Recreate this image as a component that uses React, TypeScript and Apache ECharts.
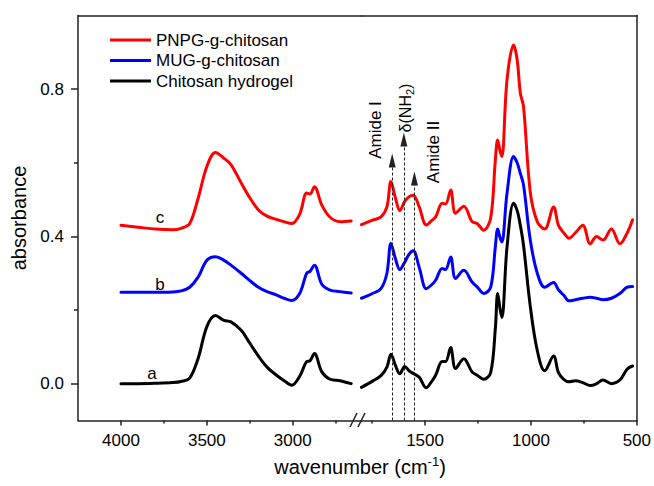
import React, { useEffect, useRef } from "react";
import * as echarts from "echarts";

const FONT = "'Liberation Sans', Arial, sans-serif";

// wavenumber grids (cm-1)
const WN_LEFT = [4000, 3900, 3800, 3700, 3650, 3600, 3550, 3500, 3450, 3400, 3360, 3300, 3250, 3200, 3150, 3100, 3050, 3006, 2960, 2919, 2900, 2874, 2831, 2783, 2725, 2660];
const WN_RIGHT = [1800, 1748, 1708, 1680, 1661, 1640, 1619, 1596, 1575, 1556, 1528, 1494, 1470, 1450, 1419, 1403, 1379, 1356, 1317, 1278, 1254, 1223, 1190, 1168, 1157, 1145, 1137, 1113, 1082, 1065, 1050, 1035, 1003, 970, 935, 893, 870, 845, 820, 790, 755, 720, 690, 660, 620, 580, 545, 520];

// a: Chitosan hydrogel
const A_LEFT = [0.0, 0.0, 0.001, 0.003, 0.006, 0.015, 0.07, 0.155, 0.185, 0.172, 0.168, 0.145, 0.11, 0.075, 0.045, 0.025, 0.008, -0.004, 0.02, 0.06, 0.062, 0.082, 0.032, 0.012, 0.008, 0.0];
const A_RIGHT = [-0.01, 0.007, 0.022, 0.045, 0.08, 0.05, 0.027, 0.047, 0.035, 0.028, 0.018, -0.011, 0.005, 0.023, 0.06, 0.06, 0.098, 0.041, 0.068, 0.032, 0.023, 0.012, 0.03, 0.15, 0.245, 0.2, 0.18, 0.37, 0.49, 0.47, 0.43, 0.376, 0.21, 0.09, 0.035, 0.075, 0.03, 0.012, 0.005, 0.008, 0.003, -0.005, 0.0, 0.01, 0.0, 0.01, 0.04, 0.048];

// b: MUG-g-chitosan
const B_LEFT = [0.248, 0.248, 0.248, 0.249, 0.252, 0.262, 0.29, 0.335, 0.345, 0.335, 0.322, 0.3, 0.28, 0.262, 0.25, 0.242, 0.232, 0.226, 0.245, 0.3, 0.305, 0.322, 0.27, 0.254, 0.25, 0.246];
const B_RIGHT = [0.232, 0.245, 0.258, 0.3, 0.381, 0.34, 0.31, 0.33, 0.352, 0.361, 0.317, 0.258, 0.268, 0.281, 0.313, 0.31, 0.344, 0.286, 0.308, 0.276, 0.263, 0.245, 0.262, 0.372, 0.42, 0.395, 0.385, 0.517, 0.617, 0.6, 0.571, 0.54, 0.39, 0.3, 0.262, 0.275, 0.255, 0.24, 0.225, 0.228, 0.232, 0.235, 0.232, 0.228, 0.232, 0.245, 0.262, 0.264];

// c: PNPG-g-chitosan
const C_LEFT = [0.43, 0.425, 0.42, 0.418, 0.422, 0.435, 0.505, 0.59, 0.628, 0.612, 0.595, 0.545, 0.505, 0.472, 0.455, 0.447, 0.44, 0.435, 0.46, 0.518, 0.515, 0.535, 0.485, 0.452, 0.44, 0.442];
const C_RIGHT = [0.432, 0.444, 0.453, 0.48, 0.549, 0.505, 0.47, 0.495, 0.508, 0.512, 0.481, 0.431, 0.442, 0.453, 0.49, 0.488, 0.526, 0.463, 0.482, 0.44, 0.435, 0.417, 0.45, 0.608, 0.662, 0.63, 0.617, 0.825, 0.92, 0.88, 0.789, 0.753, 0.52, 0.44, 0.42, 0.48, 0.43, 0.41, 0.395, 0.41, 0.43, 0.38, 0.4, 0.39, 0.42, 0.38, 0.41, 0.445];

const NAMES = ["PNPG-g-chitosan", "MUG-g-chitosan", "Chitosan hydrogel"];
const COLORS = ["#ff0000", "#0000ff", "#000000"];

// annotation arrows (wavenumber, arrow end absorbance)
const ANNOT_WN = [1655, 1600, 1550];
const ANNOT_END = [0.606, 0.663, 0.557];

const X_LEFT_LABELS = [3000, 3500, 4000];
const X_LEFT_MINOR = [2750, 3250, 3750];
const X_RIGHT_LABELS = [500, 1000, 1500];
const X_RIGHT_MINOR = [750, 1250, 1750];
const Y_LABELS = [0, 0.4, 0.8];
const Y_MINOR = [0.2, 0.6];

const zip = (xs: number[], ys: number[]) => xs.map((x, i) => [x, ys[i]]);

const AXIS_COLOR = "#222";

export default function App() {
  const ref = useRef<HTMLDivElement>(null);
  useEffect(() => {
    document.body.style.margin = "0";
    const chart = echarts.init(ref.current!, null, { renderer: "svg" });
    const lineW = { color: AXIS_COLOR, width: 1.5 };
    const baseX = (grid: number, min: number, max: number) => ({
      type: "value",
      gridIndex: grid,
      min,
      max,
      inverse: true,
      splitLine: { show: false },
    });
    const xlab = { show: true, fontSize: 17, fontFamily: FONT, color: "#000", margin: 11, formatter: (v: number) => String(v) };
    const xAxes: any[] = [
      {
        ...baseX(0, 2600, 4250),
        position: "bottom",
        axisLine: { show: true, onZero: false, lineStyle: lineW },
        axisTick: { show: true, customValues: X_LEFT_LABELS, length: 5, lineStyle: lineW },
        axisLabel: { ...xlab, customValues: X_LEFT_LABELS },
      },
      {
        ...baseX(0, 2600, 4250),
        position: "bottom",
        axisLine: { show: false, onZero: false },
        axisTick: { show: true, customValues: X_LEFT_MINOR, length: 3, lineStyle: lineW },
        axisLabel: { show: false },
      },
      {
        ...baseX(0, 2600, 4250),
        position: "top",
        axisLine: { show: true, onZero: false, lineStyle: lineW },
        axisTick: { show: false },
        axisLabel: { show: false },
      },
      {
        ...baseX(1, 500, 1800),
        position: "bottom",
        axisLine: { show: true, onZero: false, lineStyle: lineW },
        axisTick: { show: true, customValues: X_RIGHT_LABELS, length: 5, lineStyle: lineW },
        axisLabel: { ...xlab, customValues: X_RIGHT_LABELS },
      },
      {
        ...baseX(1, 500, 1800),
        position: "bottom",
        axisLine: { show: false, onZero: false },
        axisTick: { show: true, customValues: X_RIGHT_MINOR, length: 3, lineStyle: lineW },
        axisLabel: { show: false },
      },
      {
        ...baseX(1, 500, 1800),
        position: "top",
        axisLine: { show: true, onZero: false, lineStyle: lineW },
        axisTick: { show: false },
        axisLabel: { show: false },
      },
    ];
    const yAxes: any[] = [
      {
        type: "value",
        gridIndex: 0,
        min: -0.1,
        max: 1.0,
        position: "left",
        name: "absorbance",
        nameLocation: "middle",
        nameGap: 49,
        nameTextStyle: { fontSize: 20, fontFamily: FONT, color: "#000" },
        splitLine: { show: false },
        axisLine: { show: true, onZero: false, lineStyle: lineW },
        axisTick: { show: true, customValues: Y_LABELS, length: 7, lineStyle: lineW },
        axisLabel: {
          show: true,
          customValues: Y_LABELS,
          formatter: (v: number) => v.toFixed(1),
          fontSize: 17,
          fontFamily: FONT,
          color: "#000",
          margin: 14,
        },
      },
      {
        type: "value",
        gridIndex: 0,
        min: -0.1,
        max: 1.0,
        position: "left",
        splitLine: { show: false },
        axisLine: { show: false, onZero: false },
        axisTick: { show: true, customValues: Y_MINOR, length: 4, lineStyle: lineW },
        axisLabel: { show: false },
      },
      {
        type: "value",
        gridIndex: 1,
        min: -0.1,
        max: 1.0,
        position: "right",
        splitLine: { show: false },
        axisLine: { show: true, onZero: false, lineStyle: lineW },
        axisTick: { show: false },
        axisLabel: { show: false },
      },
    ];

    const leftData = [C_LEFT, B_LEFT, A_LEFT];
    const rightData = [C_RIGHT, B_RIGHT, A_RIGHT];
    const series: any[] = [];
    NAMES.forEach((name, i) => {
      const common = {
        type: "line",
        name,
        symbol: "none",
        smooth: 0.35,
        lineStyle: { color: COLORS[i], width: 3, join: "round", cap: "round" },
        itemStyle: { color: COLORS[i] },
        silent: true,
      };
      series.push({ ...common, xAxisIndex: 0, yAxisIndex: 0, data: zip(WN_LEFT, leftData[i]) });
      const right: any = { ...common, xAxisIndex: 3, yAxisIndex: 2, data: zip(WN_RIGHT, rightData[i]) };
      if (i === 2) {
        right.markLine = {
          silent: true,
          animation: false,
          label: { show: false },
          lineStyle: { type: [3, 2], color: "#222", width: 1 },
          emphasis: { disabled: true },
          data: ANNOT_WN.map((w, k) => [
            { coord: [w, -0.1], symbol: "none" },
            { coord: [w, ANNOT_END[k]], symbol: "triangle", symbolSize: [7, 14] },
          ]),
        };
      }
      series.push(right);
    });

    const txt = (x: number, y: number, text: string, size = 17, extra: any = {}) => ({
      type: "text",
      x,
      y,
      silent: true,
      ...extra,
      style: {
        text,
        fontSize: size,
        fontFamily: FONT,
        fill: "#000",
        align: "center",
        verticalAlign: "middle",
      },
    });

    const option: any = {
      animation: false,
      grid: [
        { left: 78, top: 15.5, width: 283.5, height: 405, containLabel: false },
        { left: 361.5, top: 15.5, width: 276.5, height: 405, containLabel: false },
      ],
      legend: {
        orient: "vertical",
        left: 105,
        top: 25,
        icon: "rect",
        itemWidth: 41,
        itemHeight: 3,
        itemGap: 0.5,
        data: NAMES,
        textStyle: { fontSize: 17, fontFamily: FONT, color: "#000", lineHeight: 20 },
        selectedMode: false,
      },
      xAxis: xAxes,
      yAxis: yAxes,
      series,
      graphic: [
        // axis break marks
        { type: "line", silent: true, shape: { x1: 350, y1: 427, x2: 357, y2: 413 }, style: { stroke: AXIS_COLOR, lineWidth: 1.5 } },
        { type: "line", silent: true, shape: { x1: 358, y1: 427, x2: 365, y2: 413 }, style: { stroke: AXIS_COLOR, lineWidth: 1.5 } },
        // curve labels
        txt(160, 217, "c"),
        txt(160, 284, "b"),
        txt(152, 373, "a"),
        // annotations
        txt(375, 130, "Amide I", 17, { rotation: Math.PI / 2 }),
        {
          type: "text",
          x: 405,
          y: 108,
          rotation: Math.PI / 2,
          silent: true,
          style: {
            text: "{t|δ(NH}{s|2}{t|)}",
            align: "center",
            verticalAlign: "middle",
            fill: "#000",
            rich: {
              t: { fontSize: 16, fontFamily: FONT, fill: "#000" },
              s: { fontSize: 11, fontFamily: FONT, fill: "#000", padding: [10, 0, 0, 0] },
            },
          },
        },
        txt(433, 152, "Amide II", 17, { rotation: Math.PI / 2 }),
        // x-axis title
        {
          type: "text",
          x: 360,
          y: 467,
          silent: true,
          style: {
            text: "{t|wavenumber (cm}{s|-1}{t|)}",
            align: "center",
            verticalAlign: "middle",
            fill: "#000",
            rich: {
              t: { fontSize: 20, fontFamily: FONT, fill: "#000" },
              s: { fontSize: 13, fontFamily: FONT, fill: "#000", padding: [0, 0, 12, 0] },
            },
          },
        },
      ],
    };
    chart.setOption(option);
    return () => chart.dispose();
  }, []);
  return <div ref={ref} style={{ width: 654, height: 486 }} />;
}
